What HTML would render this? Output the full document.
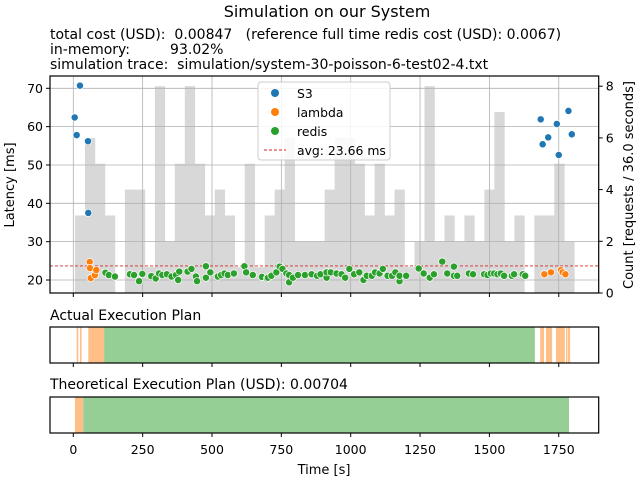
<!DOCTYPE html>
<html><head><meta charset="utf-8"><style>
body{margin:0;background:#fff;}
svg{display:block;font-family:"DejaVu Sans","Liberation Sans",sans-serif;}
</style></head><body>
<svg id="chart" width="640" height="480" viewBox="0 0 640 480">
<text x="327" y="17" font-size="16" text-anchor="middle">Simulation on our System</text>
<text x="50" y="39" font-size="14" xml:space="preserve">total cost (USD):  0.00847   (reference full time redis cost (USD): 0.0067)</text>
<text x="50" y="54" font-size="14" xml:space="preserve">in-memory:         93.02%</text>
<text x="50" y="69" font-size="14" xml:space="preserve">simulation trace:  simulation/system-30-poisson-6-test02-4.txt</text>
<g id="hist"></g>
<g id="grid"></g>
<g id="pts"></g>
<g id="axes"></g>
<g id="plans"></g>
<text transform="translate(14,185) rotate(-90)" font-size="13" text-anchor="middle">Latency [ms]</text>
<text transform="translate(633,185) rotate(-90)" font-size="13" text-anchor="middle">Count [requests / 36.0 seconds]</text>
<text x="324" y="474" font-size="13" text-anchor="middle">Time [s]</text>
<text x="50" y="320" font-size="14">Actual Execution Plan</text>
<text x="50" y="389" font-size="14">Theoretical Execution Plan (USD): 0.00704</text>
<g>
<rect x="258" y="82" width="132" height="78" rx="3" fill="#fff" fill-opacity="0.85" stroke="#ccc"/>
<circle cx="275" cy="93" r="4" fill="#1f77b4"/>
<text x="297" y="98" font-size="12.4">S3</text>
<circle cx="275" cy="112" r="4" fill="#ff7f0e"/>
<text x="297" y="117" font-size="12.4">lambda</text>
<circle cx="275" cy="131" r="4" fill="#2ca02c"/>
<text x="297" y="136" font-size="12.4">redis</text>
<line x1="264" y1="150" x2="286" y2="150" stroke="#d62728" stroke-width="1" stroke-dasharray="3,2"/>
<text x="297" y="155" font-size="12.4">avg: 23.66 ms</text>
</g>
</svg>
<script>
const histCounts=[3,6,5,3,0,4,4,1,8,2,5,8,5,3,4,3,1,5,1,3,4,6,2,2,2,4,6,6,5,3,5,3,4,1,2,8,2,3,2,3,2,4,7,2,3,0,3,3,5,2];
const histStart=6, binWidth=36;
const s3Times=[5,12,24,53,54,1685,1692,1712,1743,1750,1785,1797];
const s3Lat=[62.4,57.8,70.7,56.2,37.5,61.9,55.4,57.2,60.7,52.6,64.1,58.0];
const lambdaTimes=[59,60,63,78,83,1698,1722,1758,1764,1774];
const lambdaLat=[24.7,23.1,20.5,21.3,22.6,21.5,22.0,22.6,22.0,21.5];
const redisTimes=[116,128,150,204,219,237,249,281,297,309,321,337,354,370,382,378,412,426,442,446,478,478,494,521,533,545,557,579,617,623,647,680,698,702,714,732,744,754,768,778,778,792,810,835,859,879,891,913,913,928,949,967,980,995,1012,1031,1046,1058,1076,1088,1104,1116,1133,1149,1161,1176,1176,1200,1245,1263,1285,1300,1330,1348,1372,1372,1384,1426,1441,1481,1493,1505,1517,1529,1541,1553,1581,1589,1620,1629];
const redisLat=[21.9,21.3,20.9,21.5,21.3,19.7,21.6,21.0,20.4,21.7,21.3,21.5,20.9,21.3,22.2,20.0,22.2,22.9,20.9,19.7,23.6,20.6,22.0,20.9,21.3,21.7,21.3,21.7,23.6,22.0,21.3,20.8,20.4,20.6,21.1,22.0,23.5,22.9,21.7,19.4,21.3,20.6,21.3,21.3,21.5,21.1,21.5,20.6,22.0,22.0,21.7,21.5,20.6,22.9,21.5,22.0,20.0,21.1,21.1,22.0,21.7,22.9,21.1,21.1,22.0,19.7,21.1,21.1,23.0,21.7,20.6,21.5,24.8,21.7,23.5,21.1,21.1,21.7,21.5,21.5,21.3,21.7,21.7,21.5,21.7,21.1,21.1,21.5,21.5,21.1];
const avgLatency=23.66;
const xTicks=[0,250,500,750,1000,1250,1500,1750];
const yTicks=[20,30,40,50,60,70];
const countTicks=[0,2,4,6,8];
const actualStart=[12,24,54,111,1683,1704,1740,1776,1783];
const actualEnd=[18,30,111,1664,1697,1726,1772,1781,1791];
const actualType=["lambda","lambda","lambda","redis","lambda","lambda","lambda","lambda","lambda"];
const theoStart=[6,36];
const theoEnd=[36,1787];
const theoType=["lambda","redis"];

const NS="http://www.w3.org/2000/svg";
const L=50,R=598.7,T=76,B=293;
const X=t=>73.3+0.2774*t;
const Y=v=>280-(v-20)*3.834;
const C=c=>B-c*25.85;
function mk(tag,attrs,parent){const e=document.createElementNS(NS,tag);for(const k in attrs)e.setAttribute(k,attrs[k]);parent.appendChild(e);return e;}
const hist=document.getElementById('hist'),grid=document.getElementById('grid'),pts=document.getElementById('pts'),axes=document.getElementById('axes'),plans=document.getElementById('plans');

histCounts.forEach((c,i)=>{if(!c)return;
 const x0=X(histStart+i*binWidth),x1=X(histStart+(i+1)*binWidth);
 const r=mk('rect',{x:x0,y:C(c),width:x1-x0+0.3,height:B-C(c),fill:'#d8d8d8'},hist);
 
 
});
xTicks.forEach(t=>{const l=mk('line',{x1:X(t),x2:X(t),y1:T,y2:B,stroke:'#b0b0b0','stroke-width':0.8},grid);
 
 });
yTicks.forEach(v=>{const l=mk('line',{x1:L,x2:R,y1:Y(v),y2:Y(v),stroke:'#b0b0b0','stroke-width':0.8},grid);
 
 });
const avg=mk('line',{x1:L,x2:R,y1:Y(avgLatency),y2:Y(avgLatency),stroke:'#d62728','stroke-width':0.9,'stroke-dasharray':'3,2'},grid);


function series(ts,ls,col,name){ts.forEach((t,i)=>{
 const c=mk('circle',{cx:X(t),cy:Y(ls[i]),r:3.6,fill:col,stroke:'#fff','stroke-width':0.7},pts);
 
 });}
series(redisTimes,redisLat,'#2ca02c','redis-point');
series(lambdaTimes,lambdaLat,'#ff7f0e','lambda-point');
series(s3Times,s3Lat,'#1f77b4','s3-point');

const fr=mk('rect',{x:L,y:T,width:R-L,height:B-T,fill:'none',stroke:'#000','stroke-width':1.2},axes);


yTicks.forEach(v=>{mk('line',{x1:L-4,x2:L,y1:Y(v),y2:Y(v),stroke:'#000'},axes);
 const t=mk('text',{x:L-7,y:Y(v)+4.5,'font-size':12.5,'text-anchor':'end'},axes);t.textContent=v;
 
 });
countTicks.forEach(v=>{mk('line',{x1:R,x2:R+4,y1:C(v),y2:C(v),stroke:'#000'},axes);
 const t=mk('text',{x:R+7,y:C(v)+4.5,'font-size':12.5},axes);t.textContent=v;
 
 });
xTicks.forEach(t=>mk('line',{x1:X(t),x2:X(t),y1:B,y2:B+4,stroke:'#000'},axes));

const colors={lambda:'#ffbf86',redis:'#96cf95'};
function plan(st,en,ty,y0,y1,name){
 st.forEach((s,i)=>{const r=mk('rect',{x:X(s),y:y0,width:X(en[i])-X(s),height:y1-y0,fill:colors[ty[i]]},plans);
  
  });
 const f=mk('rect',{x:L,y:y0,width:R-L,height:y1-y0,fill:'none',stroke:'#000','stroke-width':1.2},plans);
 
 
 xTicks.forEach(t=>mk('line',{x1:X(t),x2:X(t),y1:y1,y2:y1+4,stroke:'#000'},plans));
}
plan(actualStart,actualEnd,actualType,327,363,'actual-plan');
plan(theoStart,theoEnd,theoType,397,433,'theoretical-plan');
xTicks.forEach(t=>{const e=mk('text',{x:X(t),y:454,'font-size':12.5,'text-anchor':'middle'},plans);e.textContent=t;
 
 });
</script>
</body></html>
